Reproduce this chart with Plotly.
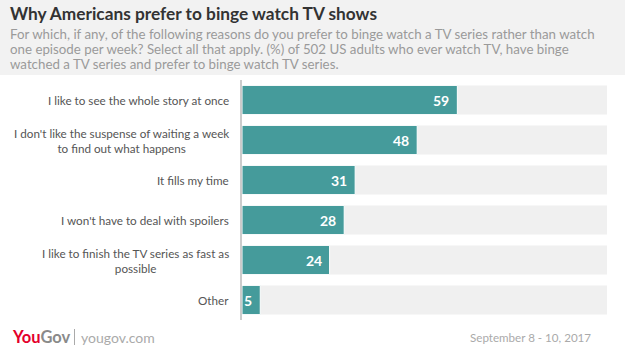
import plotly.graph_objects as go

categories = [
    "I like to see the whole story at once",
    "I don't like the suspense of waiting a week<br>to find out what happens",
    "It fills my time",
    "I won't have to deal with spoilers",
    "I like to finish the TV series as fast as<br>possible",
    "Other",
]
values = [59, 48, 31, 28, 24, 5]
full = [100] * len(categories)

title = "Why Americans prefer to binge watch TV shows"
subtitle_lines = [
    "For which, if any, of the following reasons do you prefer to binge watch a TV series rather than watch",
    "one episode per week? Select all that apply. (%) of 502 US adults who ever watch TV, have binge",
    "watched a TV series and prefer to binge watch TV series.",
]
date_text = "September 8 - 10, 2017"

FONT = "Lato"
TEAL = "#459b9b"

fig = go.Figure()
fig.add_trace(go.Bar(y=categories, x=full, orientation="h",
                     marker=dict(color="#f0f0f0", line=dict(width=0)),
                     hoverinfo="skip", showlegend=False))
fig.add_trace(go.Bar(y=categories, x=values, orientation="h",
                     marker=dict(color=TEAL, line=dict(color="white", width=1)),
                     showlegend=False))

annotations = []
for c, v in zip(categories, values):
    annotations.append(dict(x=v, y=c, xref="x", yref="y", text=f"<b>{v}</b>",
                            showarrow=False, xanchor="right", xshift=-6,
                            font=dict(family=FONT, size=14, color="white")))
    annotations.append(dict(x=0, y=c, xref="paper", yref="y", text=c,
                            showarrow=False, xanchor="right", align="center", xshift=-11,
                            font=dict(family=FONT, size=11.7, color="#555555")))

L, T, W, H = 242, 80, 365, 240


def px(x, y):
    return (x - L) / W, (T + H - y) / H


def note(x, y, text, size, color, xanchor="left", bold=False):
    ax, ay = px(x, y)
    return dict(x=ax, y=ay, xref="paper", yref="paper",
                text=f"<b>{text}</b>" if bold else text,
                xanchor=xanchor, yanchor="middle", align="left", showarrow=False,
                font=dict(family=FONT, size=size, color=color))


annotations.append(note(8, 13.5, title, 17.3, "#333333", bold=True))
for i, line in enumerate(subtitle_lines):
    annotations.append(note(8, 34 + 15 * i, line, 13.3, "#9a9a9a"))

annotations.append(note(10, 337,
                        "<b><span style='color:#e4002b'>You</span><span style='color:#8a8a8a'>Gov</span></b>",
                        16.5, "#8a8a8a"))
annotations.append(note(79, 337, "yougov.com", 14, "#aaaaaa"))
annotations.append(note(593, 337, date_text, 11.6, "#aaaaaa", xanchor="right"))

fig.update_layout(
    width=625, height=350,
    margin=dict(l=L, r=625 - L - W, t=T, b=350 - T - H),
    paper_bgcolor="white", plot_bgcolor="white",
    barmode="overlay", bargap=0.27,
    xaxis=dict(range=[0, 100], visible=False, fixedrange=True),
    yaxis=dict(autorange="reversed", showticklabels=False, showgrid=False,
               showline=True, linecolor="#cccccc", linewidth=2, zeroline=False,
               ticks=""),
    shapes=[
        dict(type="rect", xref="paper", yref="paper", x0=-1, x1=1.1,
             y0=1 + 5 / H, y1=1 + 80 / H, fillcolor="#f2f2f2",
             line=dict(width=0), layer="below"),
        dict(type="line", xref="paper", yref="paper",
             x0=px(74.5, 0)[0], x1=px(74.5, 0)[0], y0=px(0, 329)[1], y1=px(0, 345)[1],
             line=dict(color="#aaaaaa", width=1)),
    ],
    font=dict(family=FONT),
    annotations=annotations,
)

fig.write_html("out.html")
